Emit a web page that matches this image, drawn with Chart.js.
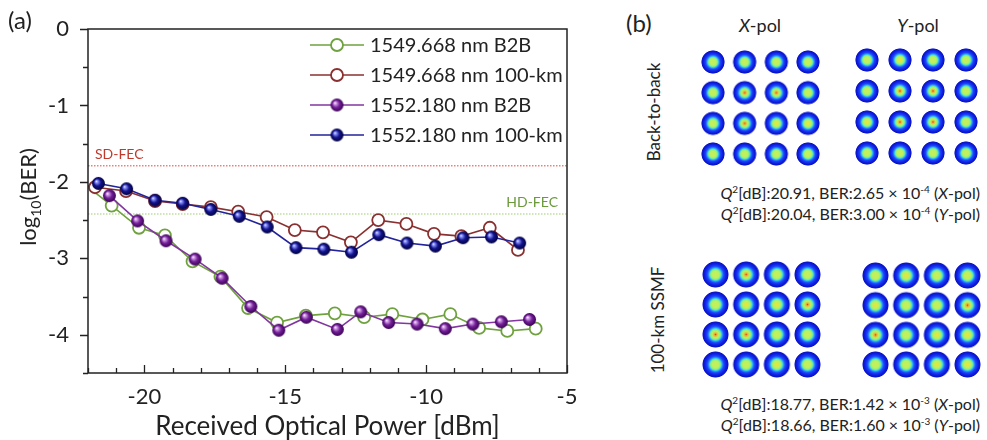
<!DOCTYPE html>
<html>
<head>
<meta charset="utf-8">
<script src="https://cdn.jsdelivr.net/npm/chart.js@4.4.1/dist/chart.umd.min.js"></script>
<style>
    body { margin: 0; background: #fff; width: 987px; height: 440px; overflow: hidden; position: relative; font-family: Lato, sans-serif; color: #222; }
    canvas { position: absolute; }
    .lbl { position: absolute; white-space: nowrap; }
    .mid { transform: translate(-50%, -50%); }
    .rot { transform: translate(-50%, -50%) rotate(-90deg); }
    .q { position: absolute; right: 7px; font-size: 16px; white-space: nowrap; line-height: 1; }
    .q sup { font-size: 10px; vertical-align: 6px; }
</style>
</head>
<body>
<canvas id="berCanvas" width="600" height="440" style="left:0;top:0"></canvas>
<canvas id="b2bX" width="123" height="120" style="left:699px;top:48px"></canvas>
<canvas id="b2bY" width="127" height="121" style="left:853px;top:46px"></canvas>
<canvas id="kmX" width="121" height="119" style="left:701px;top:260px"></canvas>
<canvas id="kmY" width="121" height="118" style="left:861px;top:261px"></canvas>

<div class="lbl" style="left:626px;top:8px;font-size:24px">(b)</div>
<div class="lbl mid" style="left:760px;top:25px;font-size:18px"><i>X</i>-pol</div>
<div class="lbl mid" style="left:918px;top:25px;font-size:18px"><i>Y</i>-pol</div>
<div class="lbl rot" style="left:653px;top:112px;font-size:17px">Back-to-back</div>
<div class="lbl rot" style="left:657px;top:320px;font-size:17px">100-km SSMF</div>
<div class="q" style="top:184px"><i>Q</i><sup>2</sup>[dB]:20.91, BER:2.65 × 10<sup>-4</sup> (<i>X</i>-pol)</div>
<div class="q" style="top:205px"><i>Q</i><sup>2</sup>[dB]:20.04, BER:3.00 × 10<sup>-4</sup> (<i>Y</i>-pol)</div>
<div class="q" style="top:395px"><i>Q</i><sup>2</sup>[dB]:18.77, BER:1.42 × 10<sup>-3</sup> (<i>X</i>-pol)</div>
<div class="q" style="top:416px"><i>Q</i><sup>2</sup>[dB]:18.66, BER:1.60 × 10<sup>-3</sup> (<i>Y</i>-pol)</div>

<script>
// Panel (a): log10(BER) vs received optical power
const seriesNames = ['1549.668 nm B2B', '1549.668 nm 100-km', '1552.180 nm B2B', '1552.180 nm 100-km'];

const powerGreen = [-22.3, -21.16, -20.19, -19.27, -18.29, -17.3, -16.32, -15.29, -14.27, -13.24, -12.2, -11.2, -10.13, -9.14, -8.12, -7.12, -6.11];
const berGreen   = [-1.98, -2.31, -2.60, -2.70, -3.04, -3.24, -3.65, -3.84, -3.75, -3.72, -3.77, -3.73, -3.80, -3.73, -3.91, -3.95, -3.92];

const powerBrown = [-22.3, -21.75, -20.65, -19.62, -18.64, -17.64, -16.67, -15.66, -14.66, -13.66, -12.67, -11.7, -10.7, -9.72, -8.75, -7.74, -6.74];
const berBrown   = [-2.03, -2.07, -2.12, -2.25, -2.29, -2.33, -2.39, -2.46, -2.63, -2.66, -2.79, -2.50, -2.55, -2.68, -2.71, -2.60, -2.89];

const powerPurple = [-21.24, -20.24, -19.23, -18.2, -17.24, -16.22, -15.23, -14.25, -13.15, -12.32, -11.33, -10.32, -9.32, -8.34, -7.33, -6.33];
const berPurple   = [-2.18, -2.51, -2.77, -3.01, -3.26, -3.63, -3.94, -3.77, -3.93, -3.70, -3.84, -3.86, -3.92, -3.86, -3.83, -3.80];

const powerBlue = [-21.63, -20.63, -19.62, -18.64, -17.64, -16.63, -15.64, -14.62, -13.63, -12.65, -11.68, -10.68, -9.67, -8.69, -7.68, -6.68];
const berBlue   = [-2.02, -2.09, -2.24, -2.28, -2.36, -2.45, -2.59, -2.86, -2.88, -2.92, -2.69, -2.80, -2.84, -2.73, -2.72, -2.80];

const powerRange = [-22, -5];
const sdFecLimit = -1.79;
const hdFecLimit = -2.42;

// Panel (b): 16-QAM constellations (I, Q) and the peak colour of each cluster (0 green, 1 yellow, 2 red)
const constI = [-3, -1, 1, 3, -3, -1, 1, 3, -3, -1, 1, 3, -3, -1, 1, 3];
const constQ = [3, 3, 3, 3, 1, 1, 1, 1, -1, -1, -1, -1, -3, -3, -3, -3];
const peakB2bX = [0, 0, 0, 0, 0, 2, 2, 0, 0, 2, 1, 1, 0, 0, 0, 0];
const peakB2bY = [0, 1, 0, 0, 0, 2, 2, 0, 1, 2, 2, 0, 0, 0, 0, 0];
const peakKmX  = [0, 2, 0, 0, 0, 1, 1, 2, 2, 2, 0, 0, 0, 0, 1, 0];
const peakKmY  = [0, 1, 0, 0, 1, 0, 0, 2, 2, 0, 1, 1, 0, 0, 1, 1];

const FONT = 'Lato, sans-serif';
const TEXT = '#222';

function ballImage(r, light, base, dark) {
    const c = document.createElement('canvas');
    c.width = c.height = 2 * r + 2;
    const g = c.getContext('2d');
    const m = r + 1;
    const grad = g.createRadialGradient(m - r * 0.35, m - r * 0.35, 0, m, m, r);
    grad.addColorStop(0, '#ffffff');
    grad.addColorStop(0.18, light);
    grad.addColorStop(0.55, base);
    grad.addColorStop(1, dark);
    g.fillStyle = grad;
    g.beginPath();
    g.arc(m, m, r, 0, Math.PI * 2);
    g.fill();
    return c;
}

const purpleBall = ballImage(6.5, '#d9a6ea', '#74209a', '#3a0052');
const navyBall = ballImage(6.5, '#8f97ff', '#14148f', '#00003e');

const toPoints = (xs, ys) => xs.map((x, i) => ({ x, y: ys[i] }));

function seriesDataset(label, xs, ys, color, style, order) {
    const filled = style !== 'circle';
    return {
        label, data: toPoints(xs, ys), order,
        borderColor: color, borderWidth: 1.6,
        pointStyle: style, pointRadius: 6, pointHoverRadius: 6,
        pointBackgroundColor: filled ? color : '#fff',
        pointBorderColor: color, pointBorderWidth: 1.8,
        clip: 0, tension: 0, legendMarker: style
    };
}

function limitDataset(label, value, color) {
    return {
        label, data: toPoints(powerRange, [value, value]), order: 9,
        borderColor: color, borderWidth: 1, borderDash: [1.5, 1.5],
        pointRadius: 0, pointHoverRadius: 0, clip: 0, isLimit: true
    };
}

const datasets = [
    seriesDataset(seriesNames[0], powerGreen, berGreen, '#6fa23f', 'circle', 4),
    seriesDataset(seriesNames[1], powerBrown, berBrown, '#8a3030', 'circle', 3),
    seriesDataset(seriesNames[2], powerPurple, berPurple, '#8236a0', purpleBall, 2),
    seriesDataset(seriesNames[3], powerBlue, berBlue, '#23239a', navyBall, 1),
    limitDataset('SD-FEC', sdFecLimit, '#d9443c'),
    limitDataset('HD-FEC', hdFecLimit, '#9ccc6a')
];

const frameAndText = {
    id: 'frameAndText',
    afterDraw(chart) {
        const { ctx, chartArea: a, scales: { x, y } } = chart;
        ctx.save();
        ctx.strokeStyle = '#222';
        ctx.lineWidth = 1.5;
        ctx.strokeRect(a.left, a.top, a.right - a.left, a.bottom - a.top);

        ctx.lineWidth = 1.3;
        ctx.beginPath();
        x.ticks.forEach(t => {
            const px = Math.round(x.getPixelForValue(t.value)) + 0.5;
            const len = t.value % 5 === 0 ? 8 : 5;
            ctx.moveTo(px, a.bottom); ctx.lineTo(px, a.bottom - len);
        });
        y.ticks.forEach(t => {
            const py = Math.round(y.getPixelForValue(t.value)) + 0.5;
            const len = Number.isInteger(t.value) ? 8 : 5;
            ctx.moveTo(a.left - len, py); ctx.lineTo(a.left, py);
        });
        ctx.stroke();

        // panel tag
        ctx.fillStyle = TEXT;
        ctx.font = `24px ${FONT}`;
        ctx.textBaseline = 'middle';
        ctx.textAlign = 'left';
        ctx.fillText('(a)', 8, 21);

        // x title
        ctx.textAlign = 'center';
        ctx.font = `26px ${FONT}`;
        ctx.fillText('Received Optical Power [dBm]', (a.left + a.right) / 2, a.bottom + 54);

        // y title with subscript
        ctx.save();
        ctx.translate(29, (a.top + a.bottom) / 2 - 4);
        ctx.rotate(-Math.PI / 2);
        const big = `22px ${FONT}`, small = `14px ${FONT}`;
        ctx.font = big; const w1 = ctx.measureText('log').width; const w3 = ctx.measureText('(BER)').width;
        ctx.font = small; const w2 = ctx.measureText('10').width;
        let sx = -(w1 + w2 + w3) / 2;
        ctx.textAlign = 'left';
        ctx.font = big; ctx.fillText('log', sx, 0); sx += w1;
        ctx.font = small; ctx.fillText('10', sx, 7); sx += w2;
        ctx.font = big; ctx.fillText('(BER)', sx, 0);
        ctx.restore();

        // FEC labels
        ctx.font = `14px ${FONT}`;
        ctx.textAlign = 'left';
        ctx.fillStyle = '#c0392b';
        ctx.fillText('SD-FEC', a.left + 7, y.getPixelForValue(sdFecLimit) - 11);
        ctx.textAlign = 'right';
        ctx.fillStyle = '#6a9a3a';
        ctx.fillText('HD-FEC', a.right - 9, y.getPixelForValue(hdFecLimit) - 12);

        // legend
        const series = chart.data.datasets.filter(d => !d.isLimit);
        ctx.font = `20px ${FONT}`;
        ctx.textAlign = 'left';
        series.forEach((d, i) => {
            const ry = a.top + 16 + i * 30;
            const x0 = a.right - 257, x1 = a.right - 203, mx = a.right - 230;
            ctx.strokeStyle = d.borderColor;
            ctx.lineWidth = 1.6;
            ctx.beginPath(); ctx.moveTo(x0, ry); ctx.lineTo(x1, ry); ctx.stroke();
            if (d.legendMarker === 'circle') {
                ctx.fillStyle = '#fff';
                ctx.lineWidth = 1.8;
                ctx.beginPath(); ctx.arc(mx, ry, 6, 0, Math.PI * 2); ctx.fill(); ctx.stroke();
            } else {
                const img = d.legendMarker;
                ctx.drawImage(img, mx - img.width / 2, ry - img.height / 2);
            }
            ctx.fillStyle = TEXT;
            ctx.fillText(d.label, a.right - 197, ry + 1);
        });
        ctx.restore();
    }
};

new Chart(document.getElementById('berCanvas'), {
    type: 'line',
    data: { datasets },
    options: {
        responsive: false,
        animation: false,
        layout: { padding: { left: 0, top: 29, right: 33, bottom: 0 } },
        plugins: { legend: { display: false }, tooltip: { enabled: false } },
        scales: {
            x: {
                type: 'linear', min: powerRange[0], max: powerRange[1],
                grid: { display: false }, border: { display: false },
                ticks: {
                    stepSize: 1, autoSkip: false, maxRotation: 0, padding: 3,
                    color: TEXT, font: { family: FONT, size: 22 },
                    callback: v => (v % 5 === 0 ? String(v) : '')
                },
                afterFit: s => { s.height = 67; }
            },
            y: {
                type: 'linear', min: -4.5, max: 0,
                grid: { display: false }, border: { display: false },
                ticks: {
                    stepSize: 0.5, autoSkip: false, padding: 11,
                    color: TEXT, font: { family: FONT, size: 22 },
                    callback: v => (Number.isInteger(v) ? String(v) : '')
                },
                afterFit: s => { s.width = 88; }
            }
        }
    },
    plugins: [frameAndText]
});

// constellation clusters
function clusterImage(r, peak) {
    const c = document.createElement('canvas');
    c.width = c.height = 2 * r + 2;
    const g = c.getContext('2d');
    const m = r + 1;
    const grad = g.createRadialGradient(m, m, 0, m, m, r);
    const core = ['#c4f05a', '#e6e63c', '#e0401c'][peak];
    grad.addColorStop(0, core);
    grad.addColorStop(peak === 2 ? 0.1 : 0.06, peak === 2 ? '#f0b030' : core);
    grad.addColorStop(0.24, '#bef060');
    grad.addColorStop(0.36, '#8cf07c');
    grad.addColorStop(0.44, '#38d4e0');
    grad.addColorStop(0.52, '#2a88ff');
    grad.addColorStop(0.62, '#1c44fa');
    grad.addColorStop(0.8, '#0e1ee0');
    grad.addColorStop(0.93, '#0a14c4');
    grad.addColorStop(1, 'rgba(20,30,200,0)');
    g.fillStyle = grad;
    g.beginPath();
    g.arc(m, m, r, 0, Math.PI * 2);
    g.fill();
    return c;
}

function drawConstellation(id, peaks, r) {
    const imgs = [0, 1, 2].map(p => clusterImage(r, p));
    new Chart(document.getElementById(id), {
        type: 'scatter',
        data: {
            datasets: [{
                data: toPoints(constI, constQ),
                pointStyle: ctx => imgs[peaks[ctx.dataIndex]],
                pointRadius: r, clip: false
            }]
        },
        options: {
            responsive: false,
            animation: false,
            layout: { padding: 14 },
            plugins: { legend: { display: false }, tooltip: { enabled: false } },
            scales: {
                x: { display: false, min: -3, max: 3 },
                y: { display: false, min: -3, max: 3 }
            }
        }
    });
}

drawConstellation('b2bX', peakB2bX, 12);
drawConstellation('b2bY', peakB2bY, 12);
drawConstellation('kmX', peakKmX, 13.5);
drawConstellation('kmY', peakKmY, 13.5);
</script>
</body>
</html>
